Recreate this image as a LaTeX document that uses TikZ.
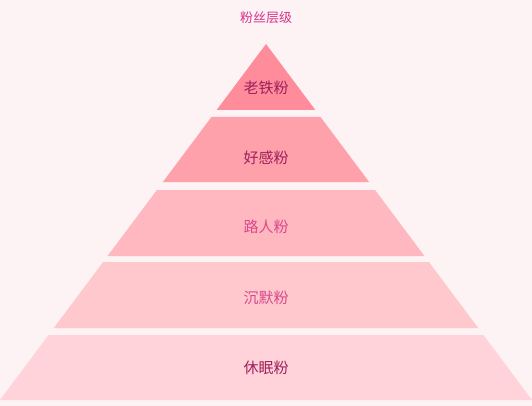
\documentclass[tikz,border=0pt]{standalone}
\usepackage{fontspec}
\newfontfamily\cjk{Noto Sans CJK SC}
\definecolor{bg}{HTML}{FDF2F4}
\definecolor{cA}{HTML}{FF8C9B}
\definecolor{cB}{HTML}{FFA1AB}
\definecolor{cC}{HTML}{FFB8C0}
\definecolor{cD}{HTML}{FFC8CD}
\definecolor{cE}{HTML}{FFD3D9}
\definecolor{tdark}{HTML}{9E1F5C}
\definecolor{tlight}{HTML}{D9488C}
\definecolor{ttitle}{HTML}{D6338A}
\begin{document}
\begin{tikzpicture}[x=1pt,y=-1pt,
  lbl/.style={font=\cjk\fontsize{15}{17}\selectfont, inner sep=0pt},
  layer/.style={draw=none}]
\fill[bg] (0,0) rectangle (532,406);
\useasboundingbox (0,0) rectangle (532,406);
\def\s{0.7472}
% apex (266,44), slope s px horizontal per px vertical
\fill[cA] (266,44) -- ({266-\s*66},110) -- ({266+\s*66},110) -- cycle;
\foreach \t/\b/\c in {117/182/cB, 190/256/cC, 262/328/cD, 335/400/cE}{
  \fill[\c] ({266-\s*(\t-44)},\t) -- ({266+\s*(\t-44)},\t) -- ({266+\s*(\b-44)},\b) -- ({266-\s*(\b-44)},\b) -- cycle;
}
\node[font=\cjk\fontsize{13}{15}\selectfont, text=ttitle, inner sep=0pt] (title) at (266,18) {粉丝层级};
\node[lbl, text=tdark] (l1) at (266,88) {老铁粉};
\node[lbl, text=tdark] (l2) at (266,158) {好感粉};
\node[lbl, text=tlight] (l3) at (266,227) {路人粉};
\node[lbl, text=tlight] (l4) at (266,298) {沉默粉};
\node[lbl, text=tdark] (l5) at (266,368) {休眠粉};
\end{tikzpicture}
\end{document}
